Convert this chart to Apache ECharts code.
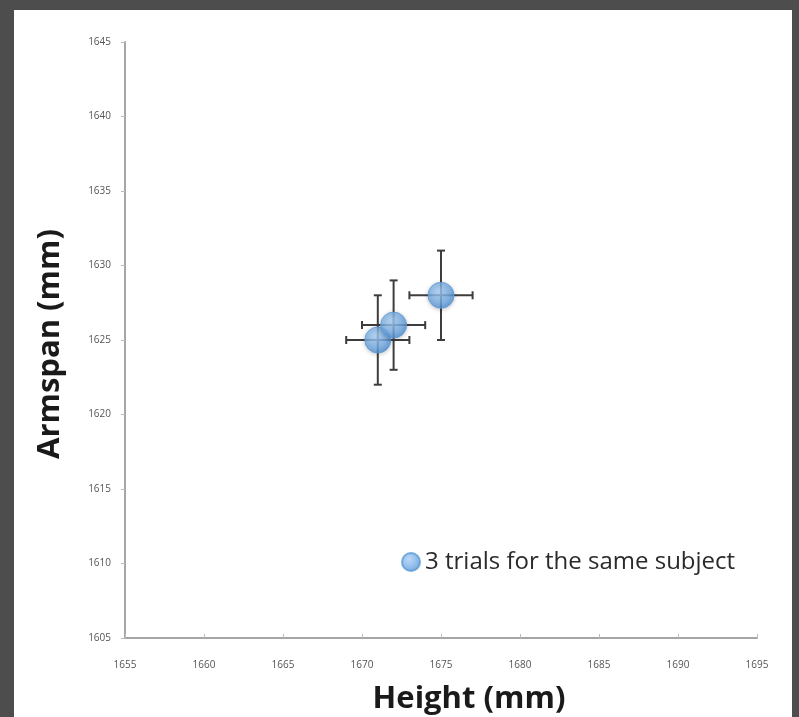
<!DOCTYPE html>
<html>
<head>
<meta charset="utf-8">
<script src="https://cdn.jsdelivr.net/npm/echarts@6/dist/echarts.min.js"></script>
<style>
  html, body { margin: 0; padding: 0; background: #4d4d4d; }
  #chart { width: 799px; height: 717px; }
</style>
</head>
<body>
<div id="chart"></div>
<script>
// Three repeated measurements of one subject
const heights = [1671, 1672, 1675];      // mm
const armspans = [1625, 1626, 1628];     // mm
const heightErr = [2, 2, 2];             // ± mm
const armspanErr = [3, 3, 3];            // ± mm

const xTicks = [1655, 1660, 1665, 1670, 1675, 1680, 1685, 1690, 1695];
const yTicks = [1605, 1610, 1615, 1620, 1625, 1630, 1635, 1640, 1645];

const seriesName = '3 trials for the same subject';

const points = heights.map((h, i) => [h, armspans[i]]);
const errData = heights.map((h, i) => [h, armspans[i], heightErr[i], armspanErr[i]]);

const chart = echarts.init(document.getElementById('chart'));

const tickLabel = { fontSize: 10, color: '#555', fontFamily: 'Open Sans', formatter: v => String(v) };
const axisLine = { lineStyle: { color: '#a6a6a6', width: 2 } };

const markerFill = new echarts.graphic.RadialGradient(0.4, 0.35, 0.7, [
  { offset: 0, color: '#a9d0f5' },
  { offset: 0.6, color: '#74ace6' },
  { offset: 1, color: '#4a8bd0' }
]);

chart.setOption({
  backgroundColor: '#4d4d4d',
  animation: false,
  graphic: [{
    type: 'rect', z: -10, silent: true,
    shape: { x: 14, y: 10, width: 778, height: 707 },
    style: { fill: '#ffffff' }
  }],
  grid: { left: 125, right: 42, top: 42, bottom: 79, outerBoundsMode: 'none', containLabel: false },
  legend: {
    data: [seriesName],
    left: 396, top: 545,
    icon: 'circle', itemWidth: 18, itemHeight: 18, itemGap: 4,
    textStyle: { fontSize: 24, color: '#2a2a2a', fontFamily: 'Open Sans' }
  },
  xAxis: {
    type: 'value', min: xTicks[0], max: xTicks[xTicks.length - 1], interval: 5,
    splitLine: { show: false },
    axisLine: axisLine,
    axisTick: { show: true, length: 4, inside: true, lineStyle: { color: '#bbb' } },
    axisLabel: Object.assign({ margin: 22 }, tickLabel),
    name: 'Height (mm)', nameLocation: 'middle', nameGap: 46,
    nameTextStyle: { fontSize: 31, fontWeight: 'bold', color: '#1a1a1a', fontFamily: 'Open Sans', padding: [0, 0, 0, 56] }
  },
  yAxis: {
    type: 'value', min: yTicks[0], max: yTicks[yTicks.length - 1], interval: 5,
    splitLine: { show: false },
    axisLine: axisLine,
    axisTick: { show: true, length: 4, lineStyle: { color: '#bbb' } },
    axisLabel: Object.assign({ margin: 14 }, tickLabel),
    name: 'Armspan (mm)', nameLocation: 'middle', nameGap: 59, nameRotate: 90,
    nameTextStyle: { fontSize: 31, fontWeight: 'bold', color: '#1a1a1a', fontFamily: 'Open Sans', padding: [0, 8, 0, 0] }
  },
  series: [
    {
      type: 'custom',
      name: 'errors',
      z: 1,
      data: errData,
      renderItem: function (params, api) {
        const x = api.value(0), y = api.value(1);
        const ex = api.value(2), ey = api.value(3);
        const l = api.coord([x - ex, y]);
        const r = api.coord([x + ex, y]);
        const t = api.coord([x, y + ey]);
        const b = api.coord([x, y - ey]);
        const cap = 4;
        const style = { stroke: '#3d3d3d', lineWidth: 2 };
        const line = (x1, y1, x2, y2) => ({ type: 'line', shape: { x1, y1, x2, y2 }, style });
        return {
          type: 'group',
          children: [
            line(l[0], l[1], r[0], r[1]),
            line(l[0], l[1] - cap, l[0], l[1] + cap),
            line(r[0], r[1] - cap, r[0], r[1] + cap),
            line(t[0], t[1], b[0], b[1]),
            line(t[0] - cap, t[1], t[0] + cap, t[1]),
            line(b[0] - cap, b[1], b[0] + cap, b[1])
          ]
        };
      }
    },
    {
      type: 'scatter',
      name: seriesName,
      z: 5,
      symbol: 'circle',
      symbolSize: 26,
      data: points,
      itemStyle: {
        color: markerFill,
        borderColor: '#5c9ad6', borderWidth: 1,
        shadowBlur: 4, shadowColor: 'rgba(0,0,0,0.25)', shadowOffsetY: 1
      }
    }
  ]
});
</script>
</body>
</html>
